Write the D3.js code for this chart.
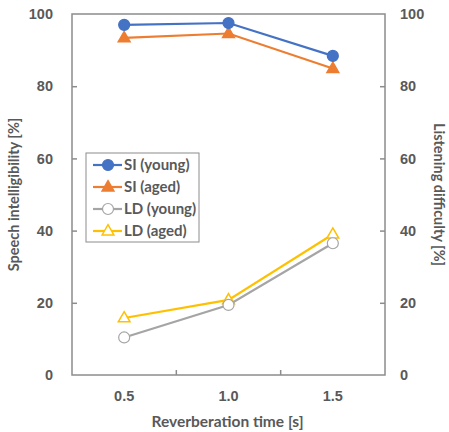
<!DOCTYPE html>
<html>
<head>
<meta charset="utf-8">
<script src="https://cdn.jsdelivr.net/npm/d3@7"></script>
<style>
	body { margin: 0; background: #fff; }
	svg { display: block; font-family: Lato, "Open Sans", sans-serif; }
</style>
</head>
<body>
<div id="chart"></div>
<script>
// data
var categories = ["0.5", "1.0", "1.5"];
var siYoung = [97.0, 97.5, 88.4];
var siAged = [93.4, 94.6, 84.9];
var ldYoung = [10.4, 19.4, 36.5];
var ldAged = [15.8, 20.8, 39.0];
var yTicks = [0, 20, 40, 60, 80, 100];

var series = [
	{ name: "SI (young)", values: siYoung, color: "#4472C4", shape: "circle", filled: true },
	{ name: "SI (aged)", values: siAged, color: "#ED7D31", shape: "triangle", filled: true },
	{ name: "LD (young)", values: ldYoung, color: "#A5A5A5", shape: "circle", filled: false },
	{ name: "LD (aged)", values: ldAged, color: "#FFC000", shape: "triangle", filled: false }
];

var width = 449, height = 432;
var margin = { top: 14, right: 64, bottom: 57, left: 72 };
var axisColor = "#8c8c8c";
var textColor = "#595959";

var svg = d3.select("#chart").append("svg")
	.attr("width", width)
	.attr("height", height);

var x = d3.scaleBand()
	.domain(categories)
	.range([margin.left, width - margin.right]);

var y = d3.scaleLinear()
	.domain([0, 100])
	.range([height - margin.bottom, margin.top]);

// frame
svg.append("rect")
	.attr("x", margin.left)
	.attr("y", margin.top)
	.attr("width", width - margin.left - margin.right)
	.attr("height", height - margin.top - margin.bottom)
	.attr("fill", "none")
	.attr("stroke", axisColor)
	.attr("stroke-width", 1.5);

// left axis
var leftAxis = svg.append("g")
	.attr("transform", "translate(" + margin.left + ",0)")
	.call(d3.axisLeft(y).tickValues(yTicks).tickSize(-5).tickPadding(19));
// right axis
var rightAxis = svg.append("g")
	.attr("transform", "translate(" + (width - margin.right) + ",0)")
	.call(d3.axisRight(y).tickValues(yTicks).tickSize(-5).tickPadding(15));

// bottom axis: ticks between categories
var bottomAxis = svg.append("g")
	.attr("transform", "translate(0," + (height - margin.bottom) + ")")
	.call(d3.axisBottom(x).tickSize(0).tickPadding(16));

svg.append("g")
	.selectAll("line")
	.data(categories.slice(1))
	.enter().append("line")
	.attr("x1", d => x(d))
	.attr("x2", d => x(d))
	.attr("y1", height - margin.bottom)
	.attr("y2", height - margin.bottom - 5)
	.attr("stroke", axisColor)
	.attr("stroke-width", 1.5);

[leftAxis, rightAxis, bottomAxis].forEach(function(g) {
	g.select(".domain").remove();
	g.selectAll(".tick line").attr("stroke", axisColor).attr("stroke-width", 1.5);
	g.selectAll("text")
		.style("font-size", "14.5px")
		.style("font-weight", "bold")
		.attr("fill", textColor);
});
// no tick marks at the frame corners
leftAxis.selectAll(".tick line").filter(d => d === 0 || d === 100).remove();
rightAxis.selectAll(".tick line").filter(d => d === 0 || d === 100).remove();

// axis titles
svg.append("text")
	.attr("x", margin.left + (width - margin.left - margin.right) / 2 - 1)
	.attr("y", 427)
	.attr("text-anchor", "middle")
	.style("font-size", "15.5px")
	.style("font-weight", "bold")
	.attr("fill", textColor)
	.text("Reverberation time [s]");

svg.append("text")
	.attr("transform", "translate(19," + (margin.top + (height - margin.top - margin.bottom) / 2) + ") rotate(-90)")
	.attr("text-anchor", "middle")
	.style("font-size", "14.5px")
	.style("font-weight", "bold")
	.attr("fill", textColor)
	.text("Speech intelligibility [%]");

svg.append("text")
	.attr("transform", "translate(434," + (margin.top + (height - margin.top - margin.bottom) / 2) + ") rotate(90)")
	.attr("text-anchor", "middle")
	.style("font-size", "14.5px")
	.style("font-weight", "bold")
	.attr("fill", textColor)
	.text("Listening difficulty [%]");

var cx = d => x(d) + x.bandwidth() / 2;
var line = d3.line()
	.x((d, i) => cx(categories[i]))
	.y(d => y(d));

function drawMarker(g, s, px, py) {
	if (s.shape === "circle") {
		g.append("circle")
			.attr("cx", px)
			.attr("cy", py)
			.attr("r", 5.5)
			.attr("fill", s.filled ? s.color : "#fff")
			.attr("stroke", s.color)
			.attr("stroke-width", 1.2);
	} else {
		g.append("path")
			.attr("d", d3.symbol().type(d3.symbolTriangle).size(60)())
			.attr("transform", "translate(" + px + "," + (py + 0.5) + ")")
			.attr("fill", s.filled ? s.color : "#fff")
			.attr("stroke", s.color)
			.attr("stroke-width", 1.5);
	}
}

// series
series.slice().reverse().forEach(function(s) {
	var g = svg.append("g");
	g.append("path")
		.datum(s.values)
		.attr("d", line)
		.attr("fill", "none")
		.attr("stroke", s.color)
		.attr("stroke-width", 2.2);
	s.values.forEach(function(v, i) {
		drawMarker(g, s, cx(categories[i]), y(v));
	});
});

// legend
var legend = svg.append("g");
legend.append("rect")
	.attr("x", 86)
	.attr("y", 153)
	.attr("width", 113)
	.attr("height", 89)
	.attr("fill", "#fff")
	.attr("stroke", axisColor)
	.attr("stroke-width", 1);

series.forEach(function(s, i) {
	var ly = 165 + i * 22;
	legend.append("line")
		.attr("x1", 93)
		.attr("x2", 122)
		.attr("y1", ly)
		.attr("y2", ly)
		.attr("stroke", s.color)
		.attr("stroke-width", 2.2);
	drawMarker(legend, s, 108, ly);
	legend.append("text")
		.attr("x", 124)
		.attr("y", ly)
		.attr("dy", "0.35em")
		.style("font-size", "15px")
		.style("font-weight", "bold")
		.attr("fill", textColor)
		.text(s.name);
});
</script>
</body>
</html>
